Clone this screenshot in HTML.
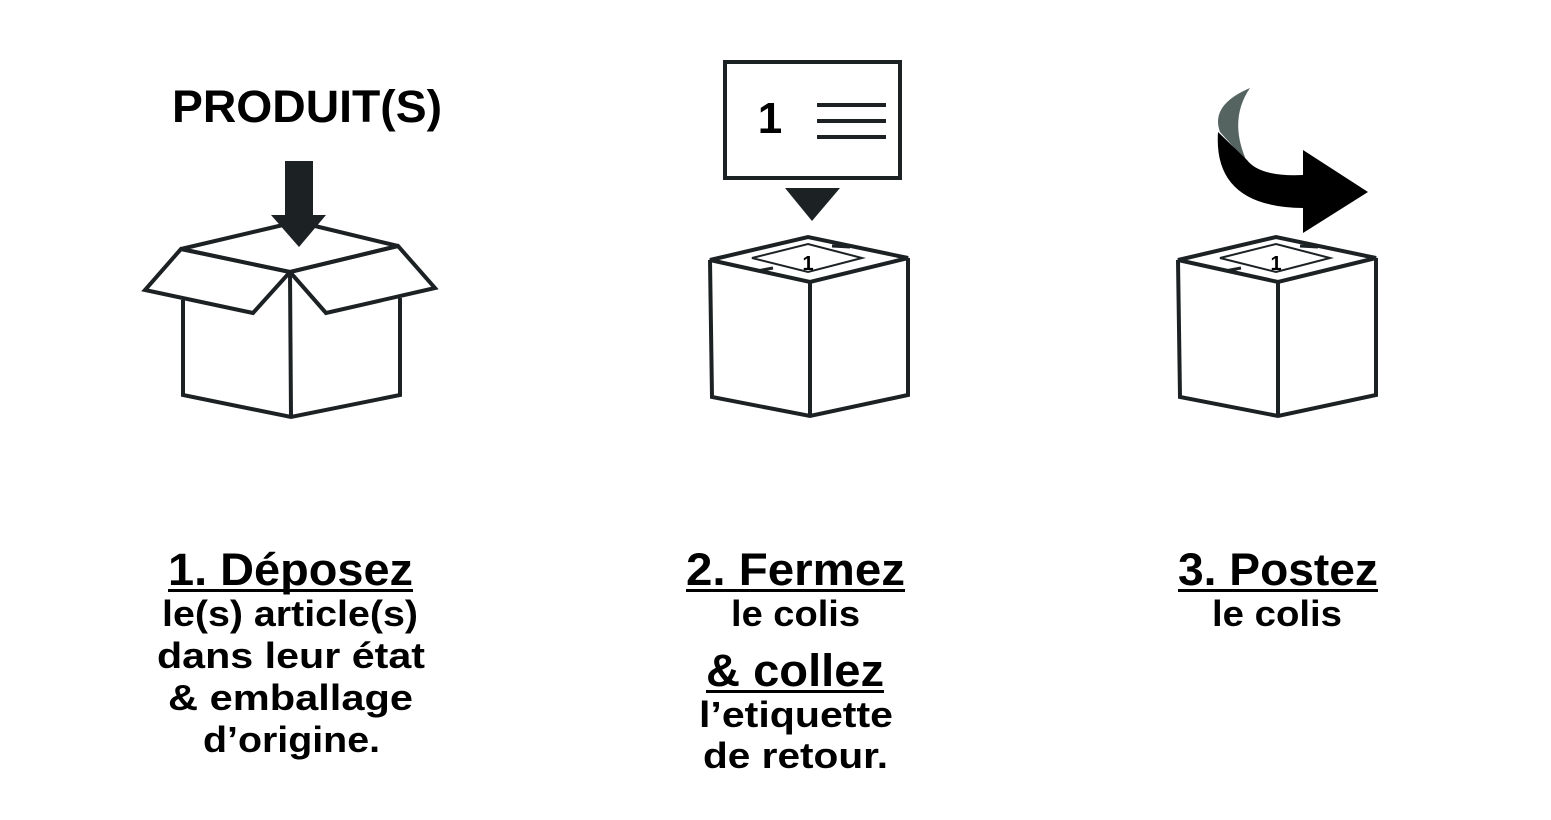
<!DOCTYPE html>
<html><head><meta charset="utf-8"><style>
html,body{margin:0;padding:0;background:#fff;width:1551px;height:820px;overflow:hidden}
text{font-family:"Liberation Sans",sans-serif;font-weight:bold;fill:#000}
</style></head><body>
<svg width="1551" height="820" viewBox="0 0 1551 820" xmlns="http://www.w3.org/2000/svg">
<g fill="none" stroke="#1c2224" stroke-width="4" stroke-linejoin="miter">
<!-- box 1 -->
<polyline points="183,300 183,395 291,417 400,395 400,298"/>
<line x1="290" y1="272" x2="291" y2="417"/>
<polyline points="181,249 290,272 398,246"/>
<polygon points="181,249 145,290 253,313 290,272"/>
<polygon points="398,246 435,288 326,313 290,272"/>
<polyline points="181,249 283,225"/>
<polyline points="315,226 398,246"/>
<!-- box 2 -->
<polygon points="710,260 808,237 908,258 810,282"/>
<polyline points="710,260 712,397 810,416 908,395 908,258"/>
<line x1="810" y1="282" x2="810" y2="416"/>
<polygon points="752,258 808,244 862,258 808,272" stroke-width="2"/>
<line x1="757" y1="271" x2="773" y2="268" stroke-width="3"/>
<line x1="832" y1="246" x2="850" y2="247" stroke-width="3"/>
<rect x="725" y="62" width="175" height="116"/>
<line x1="817" y1="105" x2="886" y2="105"/>
<line x1="817" y1="121" x2="886" y2="121"/>
<line x1="817" y1="137" x2="886" y2="137"/>
<!-- box 3 -->
<polygon points="1178,260 1276,237 1376,258 1278,282"/>
<polyline points="1178,260 1180,397 1278,416 1376,395 1376,258"/>
<line x1="1278" y1="282" x2="1278" y2="416"/>
<polygon points="1220,258 1276,244 1330,258 1276,272" stroke-width="2"/>
<line x1="1225" y1="271" x2="1241" y2="268" stroke-width="3"/>
<line x1="1300" y1="246" x2="1318" y2="247" stroke-width="3"/>
</g>
<!-- arrow 1 -->
<rect x="285" y="161" width="28" height="55" fill="#1c2224"/>
<polygon points="271,215 326,215 299,247" fill="#1c2224"/>
<!-- triangle 2 -->
<polygon points="785,188 840,188 812,221" fill="#1c2224"/>
<text x="770" y="133" font-size="44" text-anchor="middle">1</text>
<text x="808" y="270" font-size="20" text-anchor="middle">1</text>
<text x="1276" y="270" font-size="20" text-anchor="middle">1</text>
<!-- arrow 3 -->
<path d="M1250,88 Q1210,105 1220,132 L1247,162 Q1228,120 1250,88 Z" fill="#566461"/>
<path d="M1218,132 Q1213,207 1303,208 L1303,175 Q1260,177 1247,160 Z" fill="#000"/>
<polygon points="1303,150 1368,192 1303,233" fill="#000"/>
<!-- texts -->
<text x="172" y="122" font-size="45" textLength="270" lengthAdjust="spacingAndGlyphs">PRODUIT(S)</text>
<text x="168" y="585" font-size="45" textLength="245" lengthAdjust="spacingAndGlyphs">1. Déposez</text>
<rect x="168" y="589" width="245" height="3" fill="#000"/>
<text x="162" y="626" font-size="36" textLength="256" lengthAdjust="spacingAndGlyphs">le(s) article(s)</text>
<text x="157" y="668" font-size="36" textLength="268" lengthAdjust="spacingAndGlyphs">dans leur état</text>
<text x="168" y="710" font-size="36" textLength="245" lengthAdjust="spacingAndGlyphs">&amp; emballage</text>
<text x="203" y="752" font-size="36" textLength="177" lengthAdjust="spacingAndGlyphs">d’origine.</text>
<text x="686" y="585" font-size="45" textLength="219" lengthAdjust="spacingAndGlyphs">2. Fermez</text>
<rect x="686" y="589" width="219" height="3" fill="#000"/>
<text x="731" y="626" font-size="36" textLength="129" lengthAdjust="spacingAndGlyphs">le colis</text>
<text x="706" y="686" font-size="45" textLength="178" lengthAdjust="spacingAndGlyphs">&amp; collez</text>
<rect x="706" y="690" width="178" height="3" fill="#000"/>
<text x="699" y="727" font-size="36" textLength="194" lengthAdjust="spacingAndGlyphs">l’etiquette</text>
<text x="703" y="768" font-size="36" textLength="185" lengthAdjust="spacingAndGlyphs">de retour.</text>
<text x="1178" y="585" font-size="45" textLength="200" lengthAdjust="spacingAndGlyphs">3. Postez</text>
<rect x="1178" y="589" width="200" height="3" fill="#000"/>
<text x="1212" y="626" font-size="36" textLength="130" lengthAdjust="spacingAndGlyphs">le colis</text>
</svg>
</body></html>
